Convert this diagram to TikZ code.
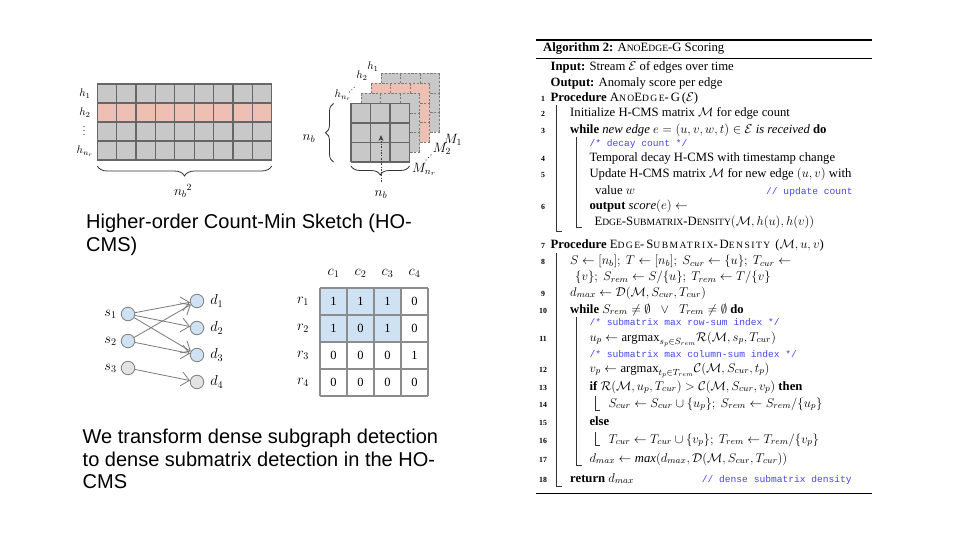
\RequirePackage{fix-cm}
\documentclass[tikz,border=0pt]{standalone}
\usepackage{fontspec}
\setmainfont{Liberation Serif}
\newfontfamily\arialf{Liberation Sans}
\newfontfamily\monof{Liberation Mono}
\usetikzlibrary{arrows.meta,decorations.pathreplacing}
\definecolor{cellgray}{HTML}{C8C8C8}
\definecolor{gridc}{HTML}{666666}
\definecolor{pinkc}{HTML}{EEBFB3}
\definecolor{nodeblue}{HTML}{CFE2F3}
\definecolor{nodegray}{HTML}{E3E3E3}
\definecolor{nodeb}{HTML}{7F7F7F}
\definecolor{edgec}{HTML}{7A7A7A}
\definecolor{matline}{HTML}{8C8C8C}
\definecolor{dashc}{HTML}{7A7A7A}
\definecolor{cmtblue}{RGB}{70,70,235}
\newcommand\smc[1]{{\fontsize{9.6}{11}\selectfont #1}}
\newcommand\pname[1]{{\addfontfeatures{LetterSpace=15}#1}}
\newcommand\sklayer[4]{%
  \fill[#3] (#1,#2) rectangle ++(58.5,58.5);
  \foreach \k in {0,...,3}{
    \draw[#4] ({#1+\k*19.5},#2) -- ++(0,58.5);
    \draw[#4] (#1,{#2+\k*19.5}) -- ++(58.5,0);
  }}
\begin{document}
\begin{tikzpicture}[x=1pt,y=-1pt,
  captxt/.style={anchor=base west, inner sep=0, font=\arialf\fontsize{20}{23}\selectfont},
  alg/.style={anchor=base west, inner sep=0, font=\fontsize{12.7}{15}\selectfont},
  lnum/.style={anchor=base, inner sep=0, font=\fontsize{7.8}{9}\selectfont\bfseries},
  cmt/.style={anchor=base west, inner sep=0, text=cmtblue, font=\monof\fontsize{9.6}{11}\selectfont},
  bar/.style={line width=0.8, black!80},
  gline/.style={gridc, line width=1.2},
  dline/.style={dashc, line width=0.8, dash pattern=on 2.2pt off 1.6pt},
  lab/.style={inner sep=0, font=\fontsize{11}{12}\selectfont},
  labb/.style={inner sep=0, font=\fontsize{13.5}{15}\selectfont},
  gnode/.style={circle, draw=nodeb, fill=nodeblue, minimum size=13.5pt, inner sep=0, line width=0.8},
  gedge/.style={edgec, line width=0.8, -{Straight Barb[length=8pt,width=14pt]}},
  brc/.style={decorate, decoration={brace, amplitude=#1}, line width=0.8, black!80},
  mnum/.style={inner sep=0, font=\fontsize{12.5}{14}\selectfont},
]
\useasboundingbox (0,0) rectangle (960,540);
\fill[white] (0,0) rectangle (960,540);

% ---------- top-left sketch matrix ----------
\fill[cellgray] (97.3,84) rectangle (271.7,160);
\fill[pinkc] (97.3,103) rectangle (271.7,122);
\foreach \k in {0,...,9} \draw[gline] ({97.3+\k*19.378},84) -- ++(0,76);
\foreach \k in {0,...,4} \draw[gline] (97.3,{84+\k*19}) -- (271.7,{84+\k*19});
\node[lab] (hA) at (85,93.5) {$h_1$};
\node[lab] (hB) at (85,112.5) {$h_2$};
\foreach \t in {0,1,2} \fill[black!85] (84,{126.5+\t*4}) circle (0.6);
\node[lab] (hD) at (85,151) {$h_{n_r}$};
\draw[brc=10] (271.7,166) -- (97.3,166);
\node[labb] (nb2) at (183,191) {$n_b{}^2$};

% ---------- 3D stack ----------
\sklayer{381}{73.5}{cellgray}{dline}
\sklayer{371}{83.5}{pinkc}{dline}
\sklayer{361}{93.5}{cellgray}{dline}
\sklayer{351}{103.5}{cellgray}{gline}
\draw[black!75, line width=0.8, dash pattern=on 2pt off 1.5pt on 0.6pt off 1.5pt, -{Stealth[length=6pt,width=5pt]}] (381,182) -- (381,135);
\draw[brc=8] (333.5,162) -- (333.5,103.5);
\draw[brc=9] (409.5,166) -- (351,166);
\node[labb] (nbl) at (309,139) {$n_b$};
\node[labb] (nbb) at (381,195) {$n_b$};
\node[lab] (sh1) at (373,67) {$h_1$};
\node[lab] (sh2) at (362,76) {$h_2$};
\foreach \t in {0,1,2} \fill[black!80] ({349.5+\t*2.3},{92-\t*2.3}) circle (0.55);
\node[lab] (shn) at (343,95) {$h_{n_r}$};
\node[labb] (m1) at (453,140) {$M_1$};
\node[labb] (m2) at (442,149) {$M_2$};
\foreach \t in {0,1,2} \fill[black!80] ({426+\t*2.5},{160-\t*2.5}) circle (0.55);
\node[labb, anchor=west] (mn) at (412,169) {$M_{n_r}$};

% ---------- bipartite graph ----------
\node[gnode] (s1) at (128,314) {};
\node[gnode] (s2) at (128,341) {};
\node[gnode, fill=nodegray] (s3) at (128,368) {};
\node[gnode] (d1) at (197,301) {};
\node[gnode] (d2) at (197,328) {};
\node[gnode] (d3) at (197,355) {};
\node[gnode, fill=nodegray] (d4) at (197,382) {};
\foreach \i in {1,2,3} \node[labb, anchor=east, font=\fontsize{14.5}{16}\selectfont] (ls\i) at ([xshift=-4pt]s\i.west) {$s_\i$};
\foreach \i in {1,2,3,4} \node[labb, anchor=west, font=\fontsize{14.5}{16}\selectfont] (ld\i) at ([xshift=6pt]d\i.east) {$d_\i$};
\draw[gedge] (s1) -- (d1);
\draw[gedge] (s1) -- (d2);
\draw[gedge] (s1) -- (d3);
\draw[gedge] (s2) -- (d1);
\draw[gedge] (s2) -- (d3);
\draw[gedge] (s3) -- (d4);

% ---------- adjacency matrix ----------
\fill[nodeblue] (320,288) rectangle (401,342);
\foreach \k in {0,...,4} {
  \draw[matline, line width=1.4] ({320+\k*27},288) -- ({320+\k*27},396);
  \draw[matline, line width=1.4] (320,{288+\k*27}) -- (428,{288+\k*27});
}
\foreach \v [count=\k from 0] in {1,1,1,0,1,0,1,0,0,0,0,1,0,0,0,0} {
  \pgfmathtruncatemacro\rr{div(\k,4)}
  \pgfmathtruncatemacro\cc{mod(\k,4)}
  \node[mnum] (m-\k) at ({333.5+\cc*27},{301.5+\rr*27}) {\v};
}
\foreach \i in {1,2,3,4} {
  \node[labb, font=\fontsize{14.5}{16}\selectfont] (col\i) at ({333.5+(\i-1)*27},273) {$c_\i$};
  \node[labb, font=\fontsize{14.5}{16}\selectfont] (row\i) at (303,{301.5+(\i-1)*27}) {$r_\i$};
}

% ---------- captions ----------
\node[captxt] (t1) at (86,228.5) {Higher-order Count-Min Sketch (HO-};
\node[captxt] (t2) at (86,251.5) {CMS)};
\node[captxt] (t3) at (82.5,443.5) {We transform dense subgraph detection};
\node[captxt] (t4) at (82.5,466) {to dense submatrix detection in the HO-};
\node[captxt] (t5) at (82.5,488.5) {CMS};

% ---------- algorithm ----------
\draw[line width=1.1] (536,40) -- (872,40);
\draw[line width=0.7] (536,58) -- (872,58);
\draw[line width=0.7] (536,493.5) -- (872,493.5);

\node[alg] (capn) at (543,52) {\textbf{Algorithm 2:} A\smc{NO}E\smc{DGE}-G Scoring};
\node[alg] (inp) at (550.5,70.5) {\textbf{Input:} Stream $\mathcal{E}$ of edges over time};
\node[alg] (outp) at (550.5,86.5) {\textbf{Output:} Anomaly score per edge};
\node[lnum] (n1) at (543,101.5) {1};
\node[alg] (a1) at (550.5,101.5) {\textbf{Procedure} \pname{A\smc{NO}E\smc{DGE}-G(}$\mathcal{E}$)};
\node[lnum] (n2) at (543,117) {2};
\node[alg] (a2) at (570,117) {Initialize H-CMS matrix $\mathcal{M}$ for edge count};
\node[lnum] (n3) at (543,133.5) {3};
\node[alg] (a3) at (570,133.5) {\textbf{while} \textit{new edge} $e=(u,v,w,t)\in\mathcal{E}$ \textit{is received} \textbf{do}};
\node[cmt] (c1) at (589.3,146.5) {/* decay count */};
\node[lnum] (n4) at (543,161.5) {4};
\node[alg] (a4) at (589.3,161.5) {Temporal decay H-CMS with timestamp change};
\node[lnum] (n5) at (543,178) {5};
\node[alg] (a5) at (589.3,178) {Update H-CMS matrix $\mathcal{M}$ for new edge $(u,v)$ with};
\node[alg] (a5b) at (595,194) {value $w$};
\node[cmt] (c2) at (766,194) {// update count};
\node[lnum] (n6) at (543,209.5) {6};
\node[alg] (a6) at (589.3,209.5) {\textbf{output} $\mathit{score}(e)\leftarrow$};
\node[alg] (a6b) at (594.3,225.5) {E\smc{DGE}-S\smc{UBMATRIX}-D\smc{ENSITY}$(\mathcal{M},h(u),h(v))$};

\node[lnum] (n7) at (543,248) {7};
\node[alg] (a7) at (550.5,248) {\textbf{Procedure} \pname{E\smc{DGE}-S\smc{UBMATRIX}-D\smc{ENSITY} (}$\mathcal{M},u,v$)};
\node[lnum] (n8) at (543,264.5) {8};
\node[alg] (a8) at (570,264.5) {$S\leftarrow[n_b];\ T\leftarrow[n_b];\ S_{cur}\leftarrow\{u\};\ T_{cur}\leftarrow$};
\node[alg] (a8b) at (575,280.5) {$\{v\};\ S_{rem}\leftarrow S/\{u\};\ T_{rem}\leftarrow T/\{v\}$};
\node[lnum] (n9) at (543,296) {9};
\node[alg] (a9) at (570,296) {$d_{max}\leftarrow\mathcal{D}(\mathcal{M},S_{cur},T_{cur})$};
\node[lnum] (n10) at (543,313) {10};
\node[alg] (a10) at (570,313) {\textbf{while} $S_{rem}\neq\emptyset\;\;\vee\;\;T_{rem}\neq\emptyset$ \textbf{do}};
\node[cmt] (c3) at (589.3,325) {/* submatrix max row-sum index */};
\node[lnum] (n11) at (543,341) {11};
\node[alg] (a11) at (589.3,341) {$u_p\leftarrow\mathrm{argmax}_{s_p\in S_{rem}}\mathcal{R}(\mathcal{M},s_p,T_{cur})$};
\node[cmt] (c4) at (589.3,357) {/* submatrix max column-sum index */};
\node[lnum] (n12) at (543,372) {12};
\node[alg] (a12) at (589.3,372) {$v_p\leftarrow\mathrm{argmax}_{t_p\in T_{rem}}\mathcal{C}(\mathcal{M},S_{cur},t_p)$};
\node[lnum] (n13) at (543,390) {13};
\node[alg] (a13) at (589.3,390) {\textbf{if} $\mathcal{R}(\mathcal{M},u_p,T_{cur})>\mathcal{C}(\mathcal{M},S_{cur},v_p)$ \textbf{then}};
\node[lnum] (n14) at (543,407) {14};
\node[alg] (a14) at (608.3,407) {$S_{cur}\leftarrow S_{cur}\cup\{u_p\};\ S_{rem}\leftarrow S_{rem}/\{u_p\}$};
\node[lnum] (n15) at (543,425.5) {15};
\node[alg] (a15) at (589.3,425.5) {\textbf{else}};
\node[lnum] (n16) at (543,443) {16};
\node[alg] (a16) at (608.3,443) {$T_{cur}\leftarrow T_{cur}\cup\{v_p\};\ T_{rem}\leftarrow T_{rem}/\{v_p\}$};
\node[lnum] (n17) at (543,462) {17};
\node[alg] (a17) at (589.3,462) {$d_{max}\leftarrow \mathit{max}(d_{max},\mathcal{D}(\mathcal{M},S_{cur},T_{cur}))$};
\node[lnum] (n18) at (543,482) {18};
\node[alg] (a18) at (570,482) {\textbf{return} $d_{max}$};
\node[cmt] (c5) at (701.7,482) {// dense submatrix density};

\draw[bar] (556.7,105) -- (556.7,231) -- (561.5,231);
\draw[bar] (576.7,137) -- (576.7,227) -- (581.5,227);
\draw[bar] (556.7,253) -- (556.7,486) -- (561.5,486);
\draw[bar] (576.7,317) -- (576.7,465) -- (581.5,465);
\draw[bar] (595,396) -- (595,410) -- (600,410);
\draw[bar] (595,432) -- (595,445) -- (600,445);
\end{tikzpicture}
\end{document}
